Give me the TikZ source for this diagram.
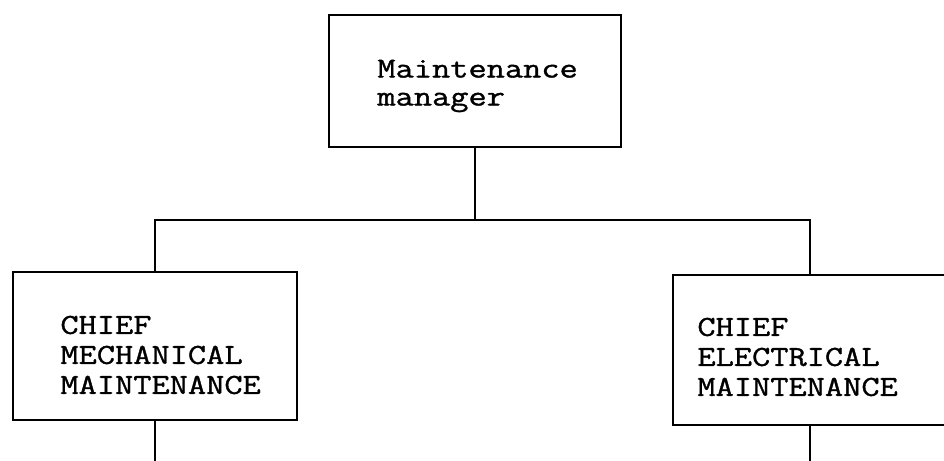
\documentclass[tikz,border=0pt]{standalone}
\usepackage{fontspec}
\setmonofont[FakeStretch=1.22, FakeBold=1.2]{Latin Modern Mono}
\usetikzlibrary{calc}

\begin{document}
\begin{tikzpicture}[x=0.5pt,y=-0.5pt,
	orgbox/.style={draw, line width=1.4pt, inner sep=0pt},
	orgtext/.style={anchor=west, align=left, inner sep=0pt, font=\fontsize{14.5}{15}\selectfont\ttfamily},
	wire/.style={line width=1.4pt}]
					\useasboundingbox (0,0) rectangle (944,461);
					
					\node[orgbox, minimum width=146pt, minimum height=66pt] (boss) at (475,81) {};
					\node[orgbox, minimum width=142pt, minimum height=74pt] (mech) at (155,346) {};
					\node[orgbox, minimum width=137pt, minimum height=75pt] (elec) at (810,350) {};
					
					\node[orgtext, font=\fontsize{14.5}{14}\selectfont\ttfamily] (bosslabel) at (377,86) {Maintenance\\manager};
					\node[orgtext] (mechlabel) at (60,355) {CHIEF\\MECHANICAL\\MAINTENANCE};
					\node[orgtext] (eleclabel) at (697,357) {CHIEF\\ELECTRICAL\\MAINTENANCE};
					
					\coordinate (bus) at (475,220);
					\coordinate (mechout) at (155,470);
					\coordinate (elecout) at (810,470);
					
					\draw[wire] (boss) - - (bus);
					\draw[wire] (mech.north) |- (bus) -| (elec.north);
					\draw[wire] (mech.south) - - (mechout);
					\draw[wire] (elec.south) - - (elecout);
				\end{tikzpicture}
\end{document}
